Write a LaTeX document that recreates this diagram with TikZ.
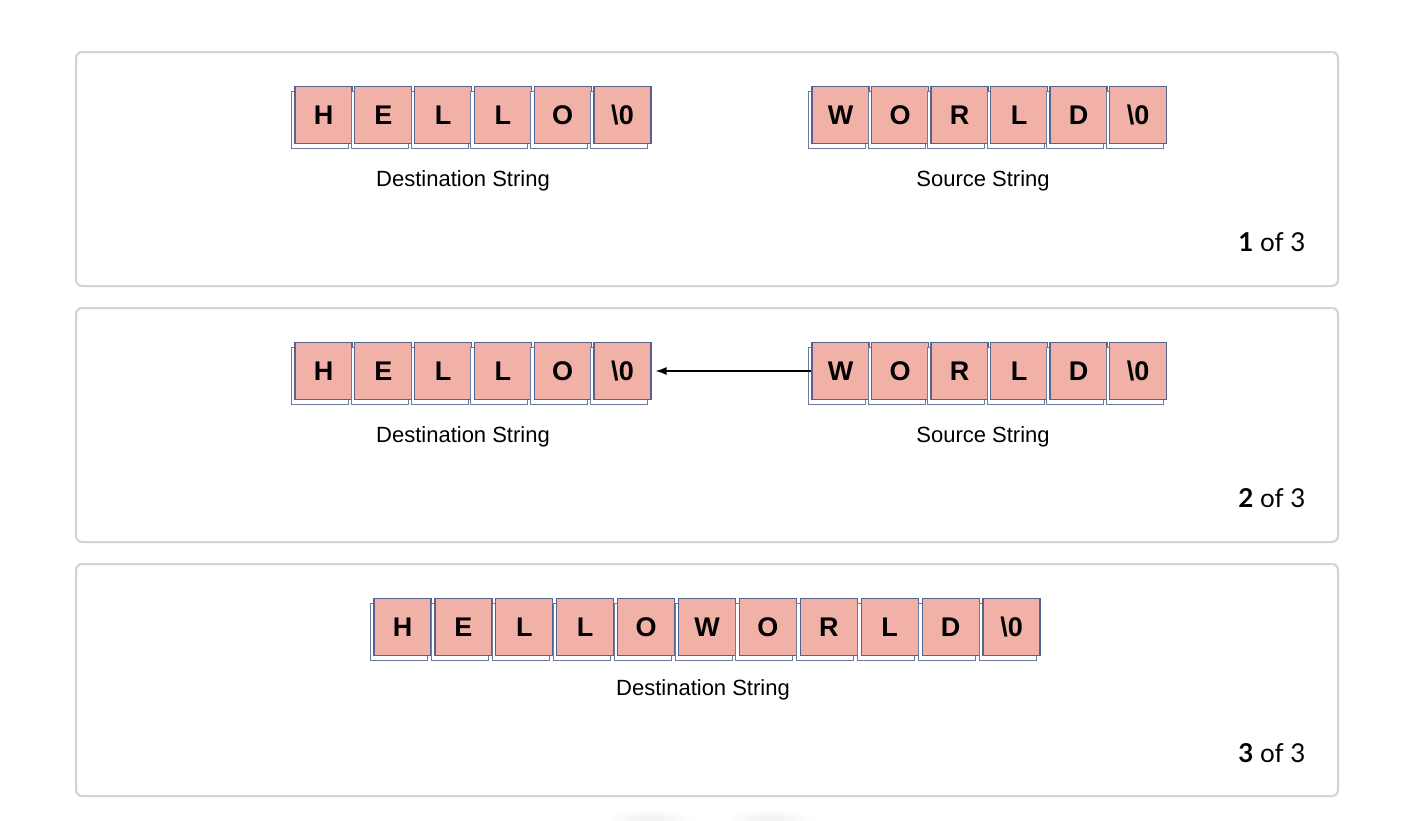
\documentclass[tikz,border=0pt]{standalone}
\usepackage{fontspec}
\setmainfont{Liberation Sans}
\newfontfamily\latofont{Lato}
\usetikzlibrary{shadows,arrows.meta}
\definecolor{cellfill}{HTML}{F2B1A6}
\definecolor{cellline}{HTML}{55648F}
\definecolor{panelline}{HTML}{D2D2D7}
\tikzset{
  panel/.style={draw=panelline, line width=2pt, fill=white, rounded corners=6pt},
  cellbox/.style={draw=cellline, fill=cellfill, line width=1.2pt, minimum width=57, minimum height=57,
    inner sep=0pt, font=\bfseries\fontsize{27}{27}\selectfont,
    copy shadow={shadow xshift=-3.5pt, shadow yshift=-4.5pt, fill=white, draw=cellline!85, line width=1pt}},
  caption/.style={font=\fontsize{22}{22}\selectfont, anchor=center},
  counter/.style={font=\latofont\fontsize{26}{26}\selectfont, anchor=east},
  copyarrow/.style={-{Latex[length=11pt,width=8pt]}, line width=1.3pt, draw=black}
}
\begin{document}
\begin{tikzpicture}[x=1pt,y=-1pt]
\useasboundingbox (0,0) rectangle (1408,820);
% faint shadows at bottom
\shade[inner color=black!6, outer color=white] (650,819) ellipse (45 and 9);
\shade[inner color=black!6, outer color=white] (770,819) ellipse (45 and 9);
% panels
\node[panel, minimum width=1262, minimum height=234, anchor=north west] (p1) at (75,51) {};
\node[panel, minimum width=1262, minimum height=234, anchor=north west] (p2) at (75,307) {};
\node[panel, minimum width=1262, minimum height=232, anchor=north west] (p3) at (75,563) {};
% panel 1
\foreach \l [count=\i] in {H,E,L,L,O,\textbackslash 0} {
  \node[cellbox] (d1-\i) at ({323.5+59.8*(\i-1)},115) {\l};
}
\foreach \l [count=\i] in {W,O,R,L,D,\textbackslash 0} {
  \node[cellbox] (s1-\i) at ({840.5+59.5*(\i-1)},115) {\l};
}
\node[caption] (dl1) at (463,181) {Destination String};
\node[caption] (sl1) at (983,181) {Source String};
\node[counter] (c1) at (1309,242) {\textbf{1} of 3};
% panel 2
\foreach \l [count=\i] in {H,E,L,L,O,\textbackslash 0} {
  \node[cellbox] (d2-\i) at ({323.5+59.8*(\i-1)},371) {\l};
}
\foreach \l [count=\i] in {W,O,R,L,D,\textbackslash 0} {
  \node[cellbox] (s2-\i) at ({840.5+59.5*(\i-1)},371) {\l};
}
\coordinate (tip) at ([xshift=4pt]d2-6.east);
\draw[copyarrow] (s2-1.west) -- (tip);
\node[caption] (dl2) at (463,437) {Destination String};
\node[caption] (sl2) at (983,437) {Source String};
\node[counter] (c2) at (1309,498) {\textbf{2} of 3};
% panel 3
\foreach \l [count=\i] in {H,E,L,L,O,W,O,R,L,D,\textbackslash 0} {
  \node[cellbox] (d3-\i) at ({402.5+60.9*(\i-1)},627) {\l};
}
\node[caption] (dl3) at (703,690) {Destination String};
\node[counter] (c3) at (1309,753) {\textbf{3} of 3};
\end{tikzpicture}
\end{document}
